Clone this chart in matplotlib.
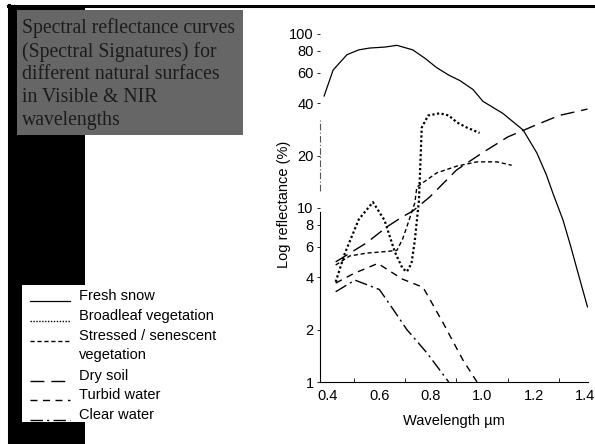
import matplotlib.pyplot as plt
from matplotlib.patches import Rectangle
from matplotlib.lines import Line2D

# spectral curves (wavelength um, reflectance %)
snow_wl = [0.385, 0.42, 0.474, 0.52, 0.563, 0.62, 0.668, 0.73, 0.78, 0.823, 0.87, 0.913,
           0.964, 1.003, 1.08, 1.16, 1.213, 1.25, 1.275, 1.315, 1.345, 1.37, 1.41]
snow_r = [44, 62, 76, 81, 83, 84, 86, 81, 72, 64, 58, 54, 48, 41, 35, 28, 20.7, 15.5,
          12.2, 8.5, 6.0, 4.4, 2.7]

leaf_wl = [0.43, 0.466, 0.52, 0.575, 0.62, 0.66, 0.69, 0.707, 0.725, 0.738, 0.754, 0.765,
           0.79, 0.835, 0.87, 0.902, 0.94, 0.99]
leaf_r = [3.76, 5.5, 8.6, 10.8, 8.5, 5.6, 4.5, 4.3, 4.8, 6.5, 11, 29, 34, 35, 34, 31, 29, 27]

stress_wl = [0.43, 0.485, 0.55, 0.614, 0.668, 0.69, 0.707, 0.738, 0.746, 0.823, 0.902,
             0.98, 1.058, 1.115]
stress_r = [4.7, 5.3, 5.5, 5.6, 5.7, 6.6, 7.8, 10.7, 13.2, 15.9, 17.4, 18.4, 18.4, 17.6]

soil_wl = [0.43, 0.55, 0.63, 0.69, 0.73, 0.797, 0.9, 1.0, 1.1, 1.21, 1.30, 1.41]
soil_r = [4.9, 6.3, 7.8, 8.9, 9.6, 11.6, 16.5, 20.7, 25.6, 30, 34, 37]

turbid_wl = [0.43, 0.5, 0.594, 0.69, 0.77, 0.847, 0.925, 0.98]
turbid_r = [3.7, 4.2, 4.8, 3.9, 3.5, 2.2, 1.34, 1.0]

clear_wl = [0.43, 0.505, 0.60, 0.64, 0.707, 0.785, 0.87]
clear_r = [3.3, 3.85, 3.4, 2.8, 2.0, 1.47, 1.0]

y_ticks = [1, 2, 4, 6, 8, 10, 20, 40, 60, 80, 100]
x_ticks = [0.4, 0.6, 0.8, 1.0, 1.2, 1.4]

legend_names = ["Fresh snow", "Broadleaf vegetation", "Stressed / senescent\nvegetation",
                "Dry soil", "Turbid water", "Clear water"]

styles = [
    dict(ls="-", lw=0.9),
    dict(ls=(0, (1, 1.1)), lw=1.6),
    dict(ls=(0, (3, 2)), lw=1.0),
    dict(ls=(0, (10, 5)), lw=1.0),
    dict(ls=(0, (5, 4)), lw=1.0),
    dict(ls=(0, (9, 3, 1.5, 3)), lw=1.0),
]

W, H = 595, 444
fig = plt.figure(figsize=(W / 100, H / 100), dpi=100)
plt.rcParams['font.family'] = ['Liberation Sans', 'DejaVu Sans']

def fx(px):
    return px / W

def fy(py):
    return 1 - py / H

# slide decorations: border, black bar, title box, legend box
fig.add_artist(Line2D([fx(8), fx(595)], [fy(6), fy(6)], color="black", lw=2.2))
fig.add_artist(Line2D([fx(9), fx(9)], [fy(5), fy(444)], color="black", lw=2.2))
fig.add_artist(Line2D([fx(13.5), fx(13.5)], [fy(5), fy(444)], color="black", lw=1.0))
fig.add_artist(Rectangle((fx(10), fy(444)), fx(85) - fx(10), fy(7) - fy(444),
                         color="black", lw=0, zorder=1))
fig.add_artist(Rectangle((fx(17), fy(135)), fx(243) - fx(17), fy(10) - fy(135),
                         color="#666666", lw=0, zorder=2))
fig.add_artist(Rectangle((fx(22), fy(422)), fx(250) - fx(22), fy(285) - fy(422),
                         color="white", lw=0, zorder=2))

fig.text(fx(22), fy(18), "Spectral reflectance curves\n(Spectral Signatures) for\n"
         "different natural surfaces\nin Visible & NIR\nwavelengths",
         family=["Liberation Serif"], fontsize=14.2, color="#1c1c1c",
         va="top", ha="left", linespacing=1.26, zorder=3)

# chart
ax = fig.add_axes([fx(320), fy(382), fx(588) - fx(320), fy(27) - fy(382)])
series = [(snow_wl, snow_r), (leaf_wl, leaf_r), (stress_wl, stress_r),
          (soil_wl, soil_r), (turbid_wl, turbid_r), (clear_wl, clear_r)]
for (wl, r), st in zip(series, styles):
    ax.plot(wl, r, color="black", **st)

ax.set_yscale("log")
ax.set_xlim(0.369, 1.412)
ax.set_ylim(1, 109.6)
ax.set_yticks(y_ticks)
ax.set_yticklabels([str(t) for t in y_ticks])
ax.minorticks_off()
ax.set_xticks(x_ticks)
ax.set_xticklabels(["%.1f" % t for t in x_ticks])
ax.set_xticks([0.5, 0.7, 0.9, 1.1, 1.3], minor=True)
ax.tick_params(axis="x", which="major", length=0, labelsize=10.5, pad=5)
ax.tick_params(axis="x", which="minor", direction="in", length=3, width=0.6)
ax.tick_params(axis="y", length=2.5, width=0.6, labelsize=10.5, pad=2)
for s in ["top", "right"]:
    ax.spines[s].set_visible(False)
ax.spines["left"].set_bounds(1, 9.5)
ax.spines["left"].set_linewidth(0.8)
ax.spines["bottom"].set_linewidth(0.8)
ax.plot([0.369, 0.369], [12.5, 32], color="#555555", lw=0.8,
        ls=(0, (6, 2, 1, 2)), clip_on=False)
ax.set_xlabel("Wavelength \u00b5m", fontsize=10.5, labelpad=8)
ax.set_ylabel("Log reflectance (%)", fontsize=10.5)
ax.yaxis.set_label_coords(-0.11, 0.5)

# legend drawn by hand
row_y = [297, 317, 337, 377, 396, 416]
for name, st, ry in zip(legend_names, styles, row_y):
    fig.add_artist(Line2D([fx(30), fx(70)], [fy(ry + 4), fy(ry + 4)], color="black",
                          zorder=4, **dict(st, lw=min(st["lw"], 1.0))))
    fig.text(fx(79), fy(ry - 8), name, fontsize=10.5, va="top", ha="left",
             linespacing=1.5, zorder=4)

fig.savefig("out.png", dpi=100)
